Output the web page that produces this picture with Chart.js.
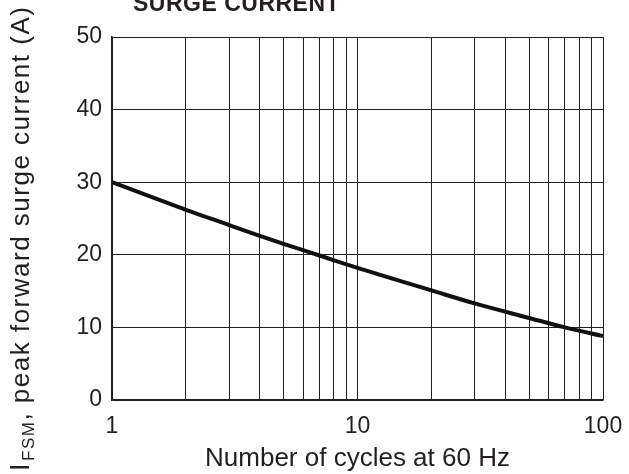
<!DOCTYPE html>
<html>
<head>
<meta charset="utf-8">
<script src="https://cdn.jsdelivr.net/npm/chart.js@4.4.0/dist/chart.umd.min.js"></script>
<style>
  html, body { margin: 0; padding: 0; background: #fff; }
  #wrap { width: 629px; height: 474px; }
</style>
</head>
<body>
<div id="wrap"><canvas id="surge_graph" width="629" height="474"></canvas></div>
<script>
// curve: cycles at 60 Hz -> peak surge current (A)
const cycles   = [1, 2, 3, 4, 5, 7, 10, 20, 30, 50, 70, 100];
const current  = [30, 26.2, 24.1, 22.6, 21.5, 19.9, 18.2, 15.1, 13.3, 11.3, 10.0, 8.8];

// grid positions on the log axis, and which of them get a label
const x_grid   = [1, 2, 3, 4, 5, 6, 7, 8, 9, 10, 20, 30, 40, 50, 60, 70, 80, 90, 100];
const x_labels = [1, 10, 100];
const y_ticks  = [0, 10, 20, 30, 40, 50];

const ink = "#231f20";
const face = "'Liberation Sans', Arial, sans-serif";

// title and y axis title (the y title has a subscript so it is drawn by hand)
const text_plugin = {
    id: "text_plugin",
    afterDraw(chart) {
        const ctx = chart.ctx;
        ctx.save();
        ctx.fillStyle = ink;
        ctx.font = "bold 23px " + face;
        ctx.textAlign = "left";
        ctx.textBaseline = "alphabetic";
        ctx.letterSpacing = "0.5px";
        ctx.fillText("SURGE CURRENT", 133, 11);

        ctx.translate(29, 471);
        ctx.rotate(-Math.PI / 2);
        ctx.letterSpacing = "1.5px";
        let x = 0;
        ctx.font = "27px " + face;
        ctx.fillText("I", x, 0);
        x += ctx.measureText("I").width + 1;
        ctx.font = "17px " + face;
        ctx.fillText("FSM", x, 5);
        x += ctx.measureText("FSM").width;
        ctx.font = "26px " + face;
        ctx.fillText(", peak forward surge current (A)", x, 0);
        ctx.restore();
    }
};

let points = [];
for (let i = 0; i < cycles.length; i++) {
    points.push({x: cycles[i], y: current[i]});
}

const ctx = document.getElementById("surge_graph").getContext("2d");
const myChart = new Chart(ctx, {
    type: "line",
    data: {
        datasets: [{
            data: points,
            borderColor: "#111",
            borderWidth: 4,
            pointRadius: 0,
            cubicInterpolationMode: "monotone",
            fill: false
        }]
    },
    plugins: [text_plugin],
    options: {
        responsive: false,
        animation: false,
        layout: { padding: { left: 36, top: 37, right: 26, bottom: 0 } },
        plugins: { legend: { display: false }, tooltip: { enabled: false } },
        scales: {
            x: {
                type: "logarithmic",
                min: 1,
                max: 100,
                afterBuildTicks: function (scale) {
                    scale.ticks = x_grid.map(v => ({ value: v }));
                },
                afterFit: function (scale) {
                    scale.height = 74;
                    scale.paddingLeft = 0;
                    scale.paddingRight = 0;
                },
                grid: { color: ink, lineWidth: 1, drawTicks: false },
                border: { color: ink, width: 1.5 },
                ticks: {
                    autoSkip: false,
                    maxRotation: 0,
                    padding: 13,
                    color: ink,
                    font: { size: 23, family: face, lineHeight: 1.2 },
                    callback: function (v) { return x_labels.includes(v) ? String(v) : ""; }
                },
                title: {
                    display: true,
                    text: "Number of cycles at 60 Hz",
                    color: ink,
                    padding: { top: 0, bottom: 0 },
                    font: { size: 26, family: face, lineHeight: 1.2 }
                }
            },
            y: {
                min: 0,
                max: 50,
                afterBuildTicks: function (scale) {
                    scale.ticks = y_ticks.map(v => ({ value: v }));
                },
                afterFit: function (scale) {
                    scale.width = 76;
                    scale.paddingTop = 0;
                    scale.paddingBottom = 0;
                },
                grid: { color: ink, lineWidth: 1, drawTicks: false },
                border: { color: ink, width: 1.5 },
                ticks: {
                    padding: 10,
                    color: ink,
                    font: { size: 23, family: face }
                }
            }
        }
    }
});
</script>
</body>
</html>
